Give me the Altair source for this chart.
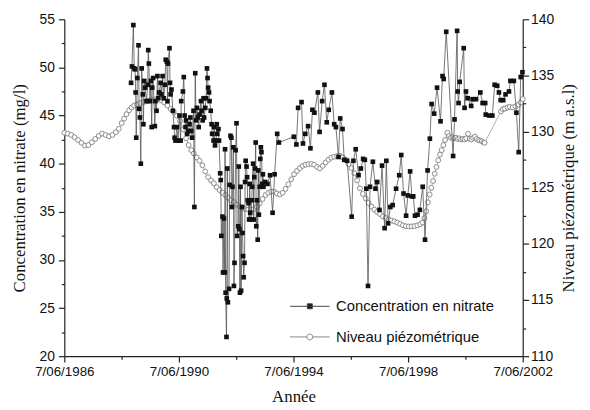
import altair as alt
import pandas as pd

# ---------------- data ----------------
nitrate_years = [
    1988.76, 1988.79, 1988.84, 1988.87, 1988.90, 1988.92, 1988.94, 1988.98, 1989.02, 1989.04,
    1989.07, 1989.10, 1989.13, 1989.17, 1989.19, 1989.22, 1989.25, 1989.30, 1989.34, 1989.36,
    1989.38, 1989.42, 1989.45, 1989.48, 1989.50, 1989.53, 1989.59, 1989.61, 1989.65, 1989.68,
    1989.71, 1989.74, 1989.79, 1989.82, 1989.86, 1989.90, 1989.94, 1989.97, 1990.01, 1990.03,
    1990.05, 1990.10, 1990.12, 1990.14, 1990.17, 1990.22, 1990.26, 1990.28, 1990.31, 1990.36,
    1990.40, 1990.45, 1990.49, 1990.51, 1990.57, 1990.60, 1990.63, 1990.66, 1990.68, 1990.72,
    1990.76, 1990.80, 1990.83, 1990.86, 1990.89, 1990.94, 1990.97, 1991.00, 1991.03, 1991.06,
    1991.09, 1991.12, 1991.15, 1991.20, 1991.22, 1991.26, 1991.29, 1991.31, 1991.35, 1991.38,
    1991.41, 1991.43, 1991.45, 1991.48, 1991.50, 1991.54, 1991.57, 1991.59, 1991.64, 1991.66,
    1991.69, 1991.73, 1991.75, 1991.77, 1991.81, 1991.83, 1991.87, 1991.89, 1991.91, 1991.95,
    1991.97, 1992.00, 1992.03, 1992.04, 1992.06, 1992.09, 1992.10, 1992.12, 1992.14, 1992.18,
    1992.20, 1992.23, 1992.26, 1992.28, 1992.30, 1992.33, 1992.35, 1992.37, 1992.41, 1992.44,
    1992.46, 1992.50, 1992.52, 1992.54, 1992.56, 1992.58, 1992.60, 1992.63, 1992.65, 1992.67,
    1992.69, 1992.72, 1992.74, 1992.76, 1992.79, 1992.81, 1992.83, 1992.86, 1992.88, 1992.90,
    1992.92, 1992.95, 1992.97, 1992.99, 1993.02, 1993.04, 1993.06, 1993.09, 1993.11, 1993.13,
    1993.15, 1993.18, 1993.20, 1993.22, 1993.25, 1993.27, 1993.29, 1993.31, 1993.34, 1993.36,
    1993.38, 1993.44, 1993.52, 1993.61, 1993.70, 1993.77, 1993.86, 1993.92, 1994.44, 1994.53,
    1994.59, 1994.71, 1994.76, 1994.84, 1994.94, 1995.02, 1995.09, 1995.16, 1995.28, 1995.34,
    1995.43, 1995.51, 1995.59, 1995.66, 1995.77, 1995.85, 1995.91, 1996.00, 1996.06, 1996.14,
    1996.20, 1996.30, 1996.46, 1996.52, 1996.60, 1996.70, 1996.78, 1996.86, 1996.92, 1996.97,
    1997.03, 1997.10, 1997.20, 1997.29, 1997.35, 1997.43, 1997.52, 1997.61, 1997.67, 1997.73,
    1997.81, 1997.89, 1998.01, 1998.12, 1998.19, 1998.27, 1998.36, 1998.42, 1998.50, 1998.56,
    1998.61, 1998.67, 1998.76, 1998.84, 1998.94, 1999.02, 1999.11, 1999.19, 1999.25, 1999.34,
    1999.44, 1999.56, 1999.63, 1999.67, 1999.76, 2000.00, 2000.05, 2000.14, 2000.16, 2000.19,
    2000.23, 2000.37, 2000.40, 2000.45, 2000.51, 2000.63, 2000.68, 2000.80, 2000.95, 2001.03,
    2001.12, 2001.14, 2001.26, 2001.37, 2001.45, 2001.54, 2001.60, 2001.66, 2001.75, 2001.83,
    2001.95, 2002.00, 2002.12, 2002.21, 2002.29, 2002.36, 2002.42,
]
nitrate_values = [
    48.4, 50.1, 54.4, 49.9, 49.8, 47.4, 42.7, 48.9, 52.3, 45.7,
    44.8, 40.0, 49.9, 47.2, 44.1, 48.6, 47.9, 46.5, 48.2, 51.8,
    50.4, 46.5, 48.6, 43.8, 47.9, 48.9, 43.9, 46.5, 45.5, 49.1,
    46.8, 47.4, 48.4, 47.2, 49.1, 46.8, 48.2, 50.8, 50.6, 46.5,
    50.4, 52.0, 48.4, 47.2, 47.7, 45.5, 43.8, 42.7, 42.4, 43.8,
    42.4, 45.0, 42.4, 46.5, 47.5, 49.0, 45.0, 43.8, 44.5, 43.1,
    43.4, 44.1, 44.8, 43.4, 42.7, 45.5, 35.5, 49.4, 44.5, 45.8,
    44.8, 43.8, 45.1, 46.5, 45.5, 44.5, 46.8, 44.8, 45.8, 46.8,
    49.9, 48.9, 47.9, 47.4, 46.5, 45.5, 44.1, 43.1, 42.4, 43.8,
    41.9, 42.4, 44.1, 43.1, 43.6, 42.4, 39.0, 38.3, 32.5, 34.5,
    28.7, 34.3, 28.7, 41.5, 26.6, 22.0, 26.0, 39.5, 25.6, 27.0,
    37.8, 42.9, 42.7, 35.5, 37.6, 41.7, 27.3, 29.7, 41.4, 44.2,
    32.5, 33.5, 39.7, 33.2, 26.6, 37.6, 26.8, 35.5, 32.8, 30.4,
    28.2, 29.7, 38.1, 40.3, 39.7, 38.6, 36.2, 35.9, 34.2, 37.9,
    34.9, 34.2, 36.2, 37.6, 40.0, 34.2, 38.6, 39.5, 42.2, 33.5,
    36.2, 32.1, 39.3, 34.7, 37.6, 40.5, 41.7, 41.2, 37.9, 38.9,
    37.6, 38.1, 37.9, 38.8, 34.9, 38.9, 43.1, 42.2, 42.8, 42.0,
    45.8, 46.4, 42.1, 43.1, 43.9, 41.6, 45.6, 45.3, 47.4, 43.3,
    46.5, 48.2, 44.3, 45.6, 47.4, 44.1, 43.8, 40.7, 44.7, 43.6,
    40.4, 40.3, 34.5, 40.3, 41.5, 38.8, 39.5, 40.5, 40.4, 37.4,
    27.3, 37.6, 40.2, 37.4, 38.1, 35.2, 39.8, 33.3, 40.3, 33.8,
    35.5, 35.7, 37.4, 38.8, 40.9, 36.9, 34.6, 36.7, 39.2, 36.6,
    36.6, 34.6, 34.7, 35.2, 37.6, 32.1, 39.3, 42.6, 46.2, 45.2,
    47.9, 44.4, 49.1, 48.8, 53.7, 40.8, 44.6, 53.8, 47.5, 46.3,
    48.5, 52.0, 45.8, 47.5, 46.8, 46.0, 46.7, 46.7, 47.4, 46.3,
    46.3, 45.1, 45.0, 45.0, 48.2, 48.1, 47.4, 46.6, 46.6, 47.2,
    47.5, 48.6, 48.6, 45.3, 41.2, 49.0, 49.5,
]

piezo_years = [
    1986.43, 1986.55, 1986.67, 1986.79, 1986.91, 1987.03, 1987.15, 1987.27, 1987.39, 1987.51,
    1987.63, 1987.75, 1987.87, 1987.99, 1988.11, 1988.23, 1988.33, 1988.43, 1988.52, 1988.60,
    1988.69, 1988.78, 1988.87, 1988.97, 1989.08, 1989.19, 1989.30, 1989.40, 1989.50, 1989.60,
    1989.70, 1989.81, 1989.92, 1990.03, 1990.14, 1990.25, 1990.36, 1990.47, 1990.58, 1990.68,
    1990.77, 1990.86, 1990.95, 1991.05, 1991.15, 1991.25, 1991.35, 1991.45, 1991.55, 1991.65,
    1991.75, 1991.85, 1991.95, 1992.05, 1992.15, 1992.25, 1992.35, 1992.45, 1992.55, 1992.65,
    1992.75, 1992.85, 1992.95, 1993.05, 1993.15, 1993.25, 1993.35, 1993.45, 1993.55, 1993.65,
    1993.75, 1993.85, 1993.95, 1994.05, 1994.15, 1994.25, 1994.35, 1994.45, 1994.55, 1994.65,
    1994.75, 1994.85, 1994.95, 1995.05, 1995.15, 1995.25, 1995.35, 1995.45, 1995.55, 1995.65,
    1995.75, 1995.85, 1995.95, 1996.05, 1996.15, 1996.25, 1996.35, 1996.45, 1996.55, 1996.65,
    1996.75, 1996.85, 1996.95, 1997.05, 1997.15, 1997.25, 1997.35, 1997.45, 1997.55, 1997.65,
    1997.75, 1997.85, 1997.95, 1998.05, 1998.15, 1998.25, 1998.35, 1998.45, 1998.55, 1998.65,
    1998.75, 1998.85, 1998.93, 1999.00, 1999.06, 1999.12, 1999.18, 1999.24, 1999.30, 1999.36,
    1999.42, 1999.48, 1999.54, 1999.60, 1999.66, 1999.72, 1999.80, 1999.86, 1999.92, 1999.98,
    2000.04, 2000.10, 2000.16, 2000.22, 2000.28, 2000.34, 2000.40, 2000.46, 2000.52, 2000.58,
    2000.64, 2000.70, 2000.76, 2000.82, 2000.88, 2000.94, 2001.00, 2001.06, 2001.10, 2001.67,
    2001.74, 2001.81, 2001.90, 2001.98, 2002.08, 2002.18, 2002.28, 2002.36, 2002.43,
]
piezo_values = [
    129.90, 129.82, 129.70, 129.50, 129.25, 129.00, 128.75, 128.80, 129.05, 129.35,
    129.62, 129.82, 129.70, 129.58, 129.70, 129.95, 130.25, 130.75, 131.15, 131.55,
    131.90, 132.15, 132.32, 132.42, 132.55, 132.62, 132.70, 132.76, 132.82, 132.88,
    132.86, 132.78, 132.60, 132.32, 132.02, 131.75, 131.40, 130.95, 130.20, 129.40,
    128.80, 128.35, 128.05, 127.70, 127.40, 127.00, 126.45, 125.95, 125.65, 125.40,
    125.05, 124.80, 124.55, 124.35, 124.10, 123.88, 123.72, 123.50, 123.35, 123.20,
    123.10, 123.06, 123.05, 123.10, 123.30, 123.60, 124.00, 124.35, 124.55, 124.66,
    124.66, 124.50, 124.40, 124.55, 124.90, 125.30, 125.75, 126.20, 126.50, 126.75,
    126.95, 127.05, 127.10, 127.12, 127.05, 126.85, 126.72, 126.95, 127.25, 127.50,
    127.68, 127.76, 127.82, 127.85, 127.70, 127.50, 127.10, 126.75, 126.30, 125.65,
    124.95, 124.45, 124.05, 123.65, 123.32, 123.05, 122.85, 122.65, 122.45, 122.30,
    122.18, 122.08, 122.00, 121.90, 121.78, 121.66, 121.58, 121.55, 121.56, 121.58,
    121.65, 121.75, 121.90, 122.30, 122.90, 123.70, 124.40, 125.00, 125.60, 126.25,
    126.85, 127.45, 127.95, 128.35, 128.80, 129.25, 129.90, 129.60, 129.45, 129.50,
    129.40, 129.45, 129.35, 129.40, 129.30, 129.35, 129.30, 129.40, 129.80, 129.35,
    129.30, 129.45, 129.55, 129.35, 129.25, 129.20, 129.15, 129.05, 129.00, 131.80,
    132.00, 132.05, 132.15, 132.20, 132.15, 132.25, 132.40, 132.60, 132.90,
]

series_names = ["Concentration en nitrate", "Niveau piézométrique"]

x_tick_values = [1986.43, 1988.43, 1990.43, 1992.43, 1994.43, 1996.43, 1998.43, 2000.43, 2002.43]
left_tick_values = [20, 22.5, 25, 27.5, 30, 32.5, 35, 37.5, 40, 42.5, 45, 47.5, 50, 52.5, 55]
right_tick_values = [110, 112.5, 115, 117.5, 120, 122.5, 125, 127.5, 130, 132.5, 135, 137.5, 140]

# ---------------- tables ----------------
df_n = pd.DataFrame({"year": nitrate_years, "value": nitrate_values})
df_p = pd.DataFrame({"year": piezo_years, "value": piezo_values})
df_leg = pd.DataFrame({"year": [1900.0, 1900.0], "value": [0.0, 0.0], "series": series_names})

LABEL_FONT = "Liberation Sans"
TITLE_FONT = "Liberation Serif"
AX_COLOR = "#222222"

x_axis = alt.Axis(
    values=x_tick_values,
    labelExpr="(round(datum.value - 0.43) % 4 == 2) ? '7/06/' + round(datum.value - 0.43) : ''",
    tickSize={"condition": {"test": "round(datum.value - 0.43) % 4 != 2", "value": 3}, "value": 6},
    labelFlush=False, labelOverlap=False, grid=False,
    labelFont=LABEL_FONT, labelFontSize=13.5, labelColor="#111", labelPadding=3,
    titleFont=TITLE_FONT, titleFontSize=17, titleFontWeight="normal", titleColor="#111", titlePadding=10,
    domainColor=AX_COLOR, tickColor=AX_COLOR, domainWidth=1.2, tickWidth=1.2,
)
x_enc = alt.X("year:Q", title="Année", axis=x_axis,
              scale=alt.Scale(domain=[1986.43, 2002.43], nice=False, zero=False))

left_axis = alt.Axis(
    orient="left", values=left_tick_values,
    labelExpr="datum.value % 5 == 0 ? datum.label : ''",
    tickSize={"condition": {"test": "datum.value % 5 != 0", "value": 3}, "value": 6},
    labelOverlap=False, grid=False,
    labelFont=LABEL_FONT, labelFontSize=14, labelColor="#111", labelPadding=4,
    titleFont=TITLE_FONT, titleFontSize=17, titleFontWeight="normal", titleColor="#111", titlePadding=11,
    domainColor=AX_COLOR, tickColor=AX_COLOR, domainWidth=1.2, tickWidth=1.2,
)
right_axis = alt.Axis(
    orient="right", values=right_tick_values,
    labelExpr="datum.value % 5 == 0 ? datum.label : ''",
    tickSize={"condition": {"test": "datum.value % 5 != 0", "value": 3}, "value": 6},
    labelOverlap=False, grid=False,
    labelFont=LABEL_FONT, labelFontSize=14, labelColor="#111", labelPadding=2,
    titleFont=TITLE_FONT, titleFontSize=17, titleFontWeight="normal", titleColor="#111",
    titleAngle=270, titleBaseline="top", titlePadding=7,
    domainColor=AX_COLOR, tickColor=AX_COLOR, domainWidth=1.2, tickWidth=1.2,
)

y_left = alt.Y("value:Q", title="Concentration en nitrate (mg/l)", axis=left_axis,
               scale=alt.Scale(domain=[20, 55], nice=False, zero=False))
y_right = alt.Y("value:Q", title="Niveau piézométrique (m a.s.l)", axis=right_axis,
                scale=alt.Scale(domain=[110, 140], nice=False, zero=False))

# ---------------- piezometric level (right axis) ----------------
p_line = alt.Chart(df_p).mark_line(color="#a8a8a8", strokeWidth=0.9).encode(x=x_enc, y=y_right)
p_pts = alt.Chart(df_p).mark_point(shape="circle", filled=True, fill="white", stroke="#808080",
                                   strokeWidth=0.9, size=24, opacity=1).encode(x=x_enc, y=y_right)
piezo = alt.layer(p_line, p_pts)

# ---------------- nitrate (left axis) ----------------
n_line = alt.Chart(df_n).mark_line(color="#555555", strokeWidth=0.8).encode(x=x_enc, y=y_left)
n_pts = alt.Chart(df_n).mark_point(shape="square", filled=True, color="#111111",
                                   size=22, opacity=1).encode(x=x_enc, y=y_left)

# legend-only layer (points lie outside the domain and are clipped)
path_n = "M-1,0L1,0M-0.125,-0.125L0.125,-0.125L0.125,0.125L-0.125,0.125Z"
path_p = ("M-1,0L-0.15,0M0.15,0L1,0M0.15,0A0.15,0.15,0,1,1,-0.15,0"
          "A0.15,0.15,0,1,1,0.15,0Z")
leg = alt.Legend(
    title=None, orient="none", legendX=228, legendY=270, padding=0,
    symbolSize=1600, symbolStrokeWidth=1, rowPadding=2, labelOffset=6,
    labelFont=LABEL_FONT, labelFontSize=15, labelColor="#111", labelLimit=400,
)
leg_layer = alt.Chart(df_leg).mark_point(filled=True, clip=True, opacity=1, strokeWidth=1).encode(
    x=x_enc, y=y_left,
    shape=alt.Shape("series:N", scale=alt.Scale(domain=series_names, range=[path_n, path_p]), legend=leg),
    fill=alt.Fill("series:N", scale=alt.Scale(domain=series_names, range=["#111111", "#ffffff"]), legend=leg),
    stroke=alt.Stroke("series:N", scale=alt.Scale(domain=series_names, range=["#444444", "#888888"]), legend=leg),
)
nitrate = alt.layer(n_line, n_pts, leg_layer)

chart = (
    alt.layer(piezo, nitrate)
    .resolve_scale(y="independent")
    .properties(
        width=464, height=341,
        autosize=alt.AutoSizeParams(type="none"),
        padding={"left": 57, "top": 9, "right": 60, "bottom": 50},
        background="white",
    )
    .configure_view(stroke=None)
)

chart.save("out.html", embed_options={"renderer": "svg", "actions": False})
